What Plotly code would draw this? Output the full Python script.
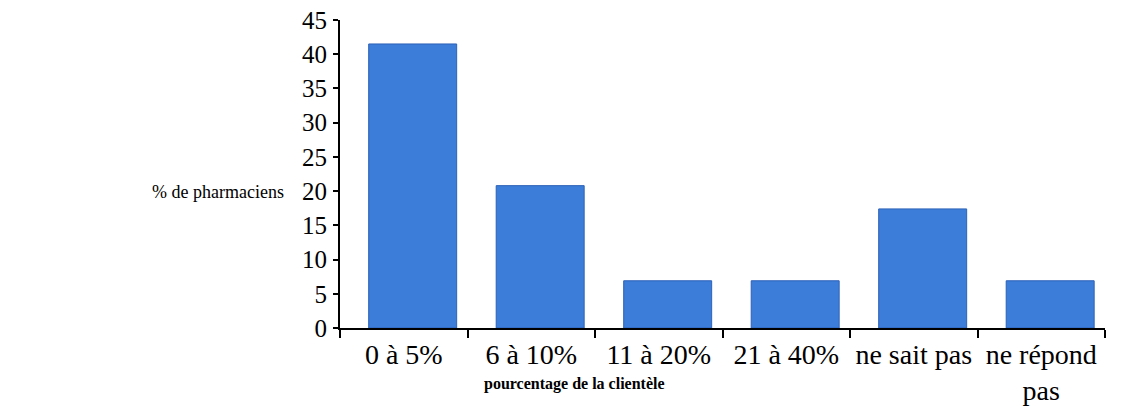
import plotly.graph_objects as go

categories = ["0 à 5%", "6 à 10%", "11 à 20%", "21 à 40%", "ne sait pas", "ne répond<br>pas"]
values = [41.5, 20.8, 6.9, 6.9, 17.4, 6.9]
y_ticks = [0, 5, 10, 15, 20, 25, 30, 35, 40, 45]

OFF = 8  # page body margin
W, H = 1123 - 2 * OFF, 419 - 2 * OFF
L, R, T, B = 340 - OFF, 1105 - OFF, 20 - OFF, 328 - OFF

BAR_W = 0.69
fig = go.Figure()
fig.add_trace(go.Bar(
    x=categories,
    y=values,
    width=BAR_W,
    offset=-BAR_W / 2 + 0.07,
    marker=dict(color="#3b7dd8", line=dict(color="#2c62b8", width=1)),
))

serif = "Liberation Serif, Times New Roman, serif"
pw, ph = R - L, B - T
fig.update_layout(
    width=W, height=H,
    margin=dict(l=L, r=W - R, t=T, b=H - B, autoexpand=False),
    plot_bgcolor="white", paper_bgcolor="white",
    showlegend=False,
    font=dict(family=serif, color="black"),
    xaxis=dict(
        type="category",
        tickfont=dict(size=28, family=serif, color="black"),
        showline=True, linecolor="black", linewidth=2,
        ticks="outside", ticklen=8, tickcolor="black", tickwidth=1.5,
        tickson="boundaries",
        showgrid=False, zeroline=False,
        ticklabelstandoff=0,
        ticklabeloverflow="allow",
        automargin=False,
    ),
    yaxis=dict(
        range=[0, 45],
        tickmode="array",
        tickvals=y_ticks,
        tickfont=dict(size=25, family=serif, color="black"),
        showline=True, linecolor="black", linewidth=2,
        ticks="outside", ticklen=5, tickcolor="black", tickwidth=1.5,
        showgrid=False, zeroline=False,
        ticklabelstandoff=1,
        ticklabeloverflow="allow",
        automargin=False,
    ),
    annotations=[
        dict(text="% de pharmaciens", xref="paper", yref="paper",
             x=(150 - OFF - L) / pw, y=(B - (192 - OFF)) / ph,
             xanchor="left", yanchor="middle", showarrow=False,
             font=dict(size=18, family=serif, color="black")),
        dict(text="<b>pourcentage de la clientèle</b>", xref="paper", yref="paper",
             x=(574 - OFF - L) / pw, y=(B - (384 - OFF)) / ph,
             xanchor="center", yanchor="middle", showarrow=False,
             font=dict(size=16, family=serif, color="black")),
    ],
)

fig.write_html("out.html")
